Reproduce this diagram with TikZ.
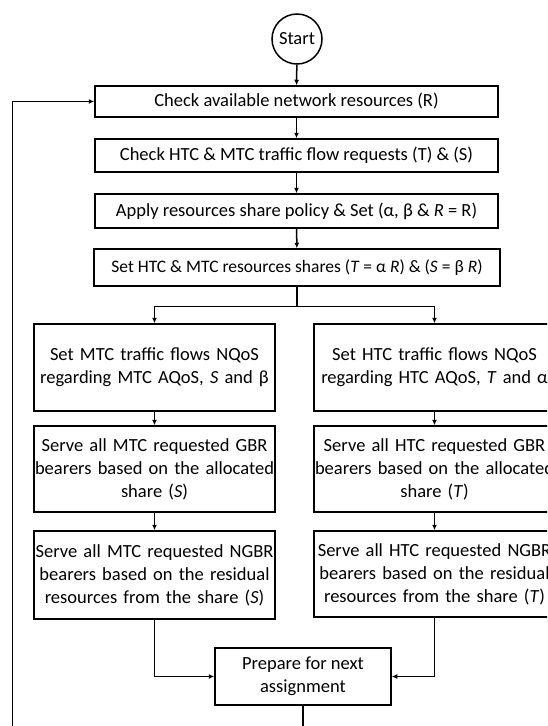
\documentclass[tikz,border=0pt]{standalone}
\usepackage{fontspec}
\setmainfont{Carlito}
\usetikzlibrary{arrows.meta}
\begin{document}
\begin{tikzpicture}[x=1pt,y=-1pt,
  font=\fontsize{18.5}{23}\selectfont,
  box/.style={draw, line width=1.5pt, align=center, inner sep=1pt},
  wide/.style={box, minimum width=403pt},
  col/.style={box, minimum width=241pt, text width=239pt},
  conn/.style={line width=1.5pt, -{Latex[length=5.5pt,width=5pt]}},
  plain/.style={line width=1.5pt}]
\path[use as bounding box, clip] (0,0) rectangle (547,726);

% start and main sequence
\node[draw, circle, line width=1.5pt, minimum size=50pt, inner sep=0pt] (start) at (297,39) {Start};
\node[wide, minimum height=31pt] (b1) at (296.5,101.5) {Check available network resources (R)};
\node[wide, minimum height=33pt] (b2) at (296.5,155.5) {Check HTC \& MTC traffic flow requests (T) \& (S)};
\node[wide, minimum height=34pt] (b3) at (296.5,211) {Apply resources share policy \& Set (α, β \& \textit{R} = R)};
\node[box, minimum width=406pt, minimum height=37pt, font=\fontsize{17.5}{21}\selectfont] (b4) at (297,267.5) {Set HTC \& MTC resources shares (\textit{T} = α \textit{R}) \& (\textit{S} = β \textit{R})};

% MTC column
\node[col, minimum height=87pt] (mA) at (154.5,367.5) {Set MTC traffic flows NQoS\\regarding MTC AQoS, \textit{S} and β};
\node[col, minimum height=86pt] (mB) at (154.5,469) {Serve all MTC requested GBR\\bearers based on the allocated\\share (\textit{S})};
\node[col, minimum height=88pt] (mC) at (154.5,575) {Serve all MTC requested NGBR\\bearers based on the residual\\resources from the share (\textit{S})};

% HTC column
\node[col, minimum height=87pt] (hA) at (434.5,367.5) {Set HTC traffic flows NQoS\\regarding HTC AQoS, \textit{T} and α};
\node[col, minimum height=86pt] (hB) at (434.5,469) {Serve all HTC requested GBR\\bearers based on the allocated\\share (\textit{T})};
\node[col, minimum height=86pt] (hC) at (434.5,574) {Serve all HTC requested NGBR\\bearers based on the residual\\resources from the share (\textit{T})};

% end of one assignment
\node[box, minimum width=176pt, minimum height=57pt] (prep) at (303,676.5) {Prepare for next\\assignment};

\coordinate (split) at (297,306.5);
\coordinate (loop) at (12.5,740);

\draw[conn] (start) -- (b1);
\draw[conn] (b1) -- (b2);
\draw[conn] (b2) -- (b3);
\draw[conn] (b3) -- (b4);
\draw[plain] (b4.south) -- (split);
\draw[conn] (split) -| (mA.north);
\draw[conn] (split) -| (hA.north);
\draw[conn] (mA) -- (mB);
\draw[conn] (mB) -- (mC);
\draw[conn] (hA) -- (hB);
\draw[conn] (hB) -- (hC);
\draw[conn] (mC.south) |- (prep.west);
\draw[conn] (hC.south) |- (prep.east);
\draw[conn] (prep.south) |- (loop) |- (b1.west);
\end{tikzpicture}
\end{document}
